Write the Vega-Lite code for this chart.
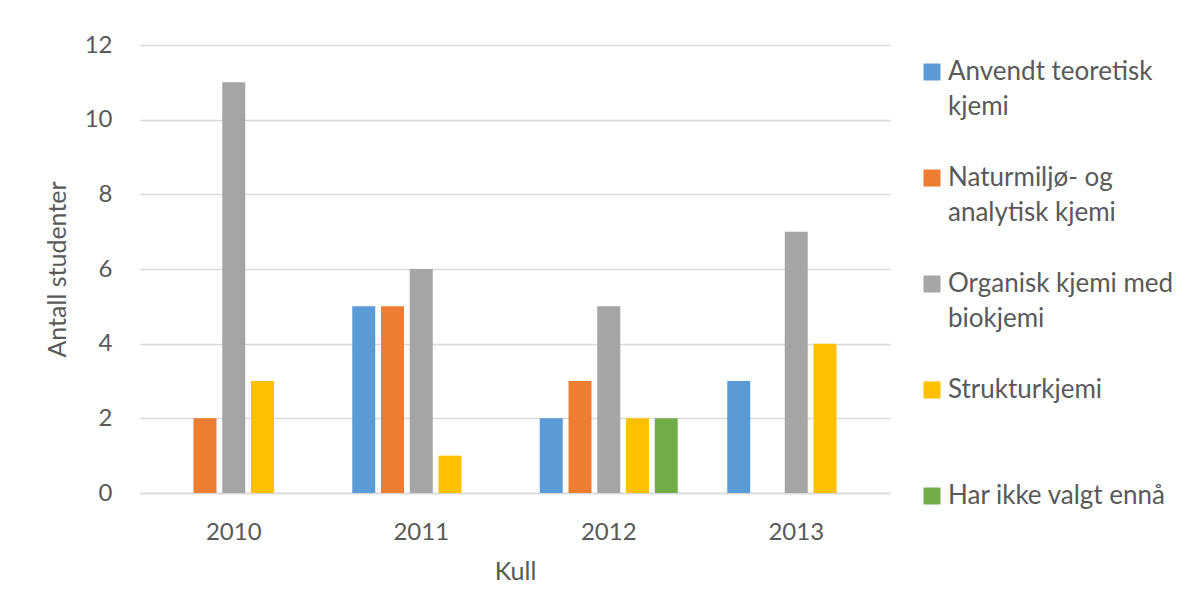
{
  "$schema": "https://vega.github.io/schema/vega-lite/v6.json",
  "autosize": "none",
  "width": 750,
  "height": 448,
  "padding": {"left": 140, "top": 45, "right": 308, "bottom": 97},
  "background": "white",
  "data": {
    "values": [
      {"kull": "2010", "retning": "Anvendt teoretisk kjemi", "antall": 0},
      {"kull": "2010", "retning": "Naturmiljø- og analytisk kjemi", "antall": 2},
      {"kull": "2010", "retning": "Organisk kjemi med biokjemi", "antall": 11},
      {"kull": "2010", "retning": "Strukturkjemi", "antall": 3},
      {"kull": "2010", "retning": "Har ikke valgt ennå", "antall": 0},
      {"kull": "2011", "retning": "Anvendt teoretisk kjemi", "antall": 5},
      {"kull": "2011", "retning": "Naturmiljø- og analytisk kjemi", "antall": 5},
      {"kull": "2011", "retning": "Organisk kjemi med biokjemi", "antall": 6},
      {"kull": "2011", "retning": "Strukturkjemi", "antall": 1},
      {"kull": "2011", "retning": "Har ikke valgt ennå", "antall": 0},
      {"kull": "2012", "retning": "Anvendt teoretisk kjemi", "antall": 2},
      {"kull": "2012", "retning": "Naturmiljø- og analytisk kjemi", "antall": 3},
      {"kull": "2012", "retning": "Organisk kjemi med biokjemi", "antall": 5},
      {"kull": "2012", "retning": "Strukturkjemi", "antall": 2},
      {"kull": "2012", "retning": "Har ikke valgt ennå", "antall": 2},
      {"kull": "2013", "retning": "Anvendt teoretisk kjemi", "antall": 3},
      {"kull": "2013", "retning": "Naturmiljø- og analytisk kjemi", "antall": 0},
      {"kull": "2013", "retning": "Organisk kjemi med biokjemi", "antall": 7},
      {"kull": "2013", "retning": "Strukturkjemi", "antall": 4},
      {"kull": "2013", "retning": "Har ikke valgt ennå", "antall": 0}
    ]
  },
  "mark": {"type": "bar"},
  "encoding": {
    "x": {
      "field": "kull",
      "type": "nominal",
      "scale": {"paddingInner": 0.264, "paddingOuter": 0.132},
      "axis": {
        "title": "Kull",
        "labelAngle": 0,
        "labelPadding": 27,
        "labelBaseline": "top",
        "ticks": false,
        "tickSize": 0,
        "domain": true,
        "domainColor": "#d9d9d9",
        "domainWidth": 1.5,
        "titlePadding": 15
      }
    },
    "xOffset": {
      "field": "retning",
      "type": "nominal",
      "sort": null,
      "scale": {
        "domain": ["Anvendt teoretisk kjemi", "Naturmiljø- og analytisk kjemi", "Organisk kjemi med biokjemi", "Strukturkjemi", "Har ikke valgt ennå"],
        "paddingInner": 0.2,
        "paddingOuter": 0
      }
    },
    "y": {
      "field": "antall",
      "type": "quantitative",
      "scale": {"domain": [0, 12], "nice": false},
      "axis": {
        "title": "Antall studenter",
        "values": [0, 2, 4, 6, 8, 10, 12],
        "labelPadding": 28,
        "ticks": false,
        "tickSize": 0,
        "domain": false,
        "grid": true,
        "gridColor": "#d9d9d9",
        "gridWidth": 1.5,
        "titlePadding": 14
      }
    },
    "color": {
      "field": "retning",
      "type": "nominal",
      "scale": {
        "domain": ["Anvendt teoretisk kjemi", "Naturmiljø- og analytisk kjemi", "Organisk kjemi med biokjemi", "Strukturkjemi", "Har ikke valgt ennå"],
        "range": ["#5b9bd5", "#ed7d31", "#a5a5a5", "#ffc000", "#70ad47"]
      },
      "legend": {
        "title": null,
        "orient": "none",
        "legendX": 779,
        "legendY": 14,
        "symbolType": "square",
        "symbolSize": 289,
        "symbolStrokeWidth": 0,
        "labelOffset": 3,
        "labelBaseline": "middle",
        "labelLimit": 400,
        "rowPadding": 45,
        "labelExpr": "{'Anvendt teoretisk kjemi': ['Anvendt teoretisk', 'kjemi'], 'Naturmiljø- og analytisk kjemi': ['Naturmiljø- og', 'analytisk kjemi'], 'Organisk kjemi med biokjemi': ['Organisk kjemi med', 'biokjemi'], 'Strukturkjemi': ['Strukturkjemi', ''], 'Har ikke valgt ennå': ['Har ikke valgt ennå', '']}[datum.label] || datum.label"
      }
    }
  },
  "config": {
    "font": "Lato",
    "view": {"stroke": null},
    "style": {"guide-label": {"lineHeight": 35}},
    "axis": {
      "labelFont": "Lato",
      "labelFontSize": 24,
      "labelColor": "#595959",
      "titleFont": "Lato",
      "titleFontSize": 25,
      "titleFontWeight": "normal",
      "titleColor": "#595959"
    },
    "legend": {
      "labelFont": "Lato",
      "labelFontSize": 26,
      "labelColor": "#595959",
      "padding": 0,
      "gridAlign": "all"
    }
  }
}
